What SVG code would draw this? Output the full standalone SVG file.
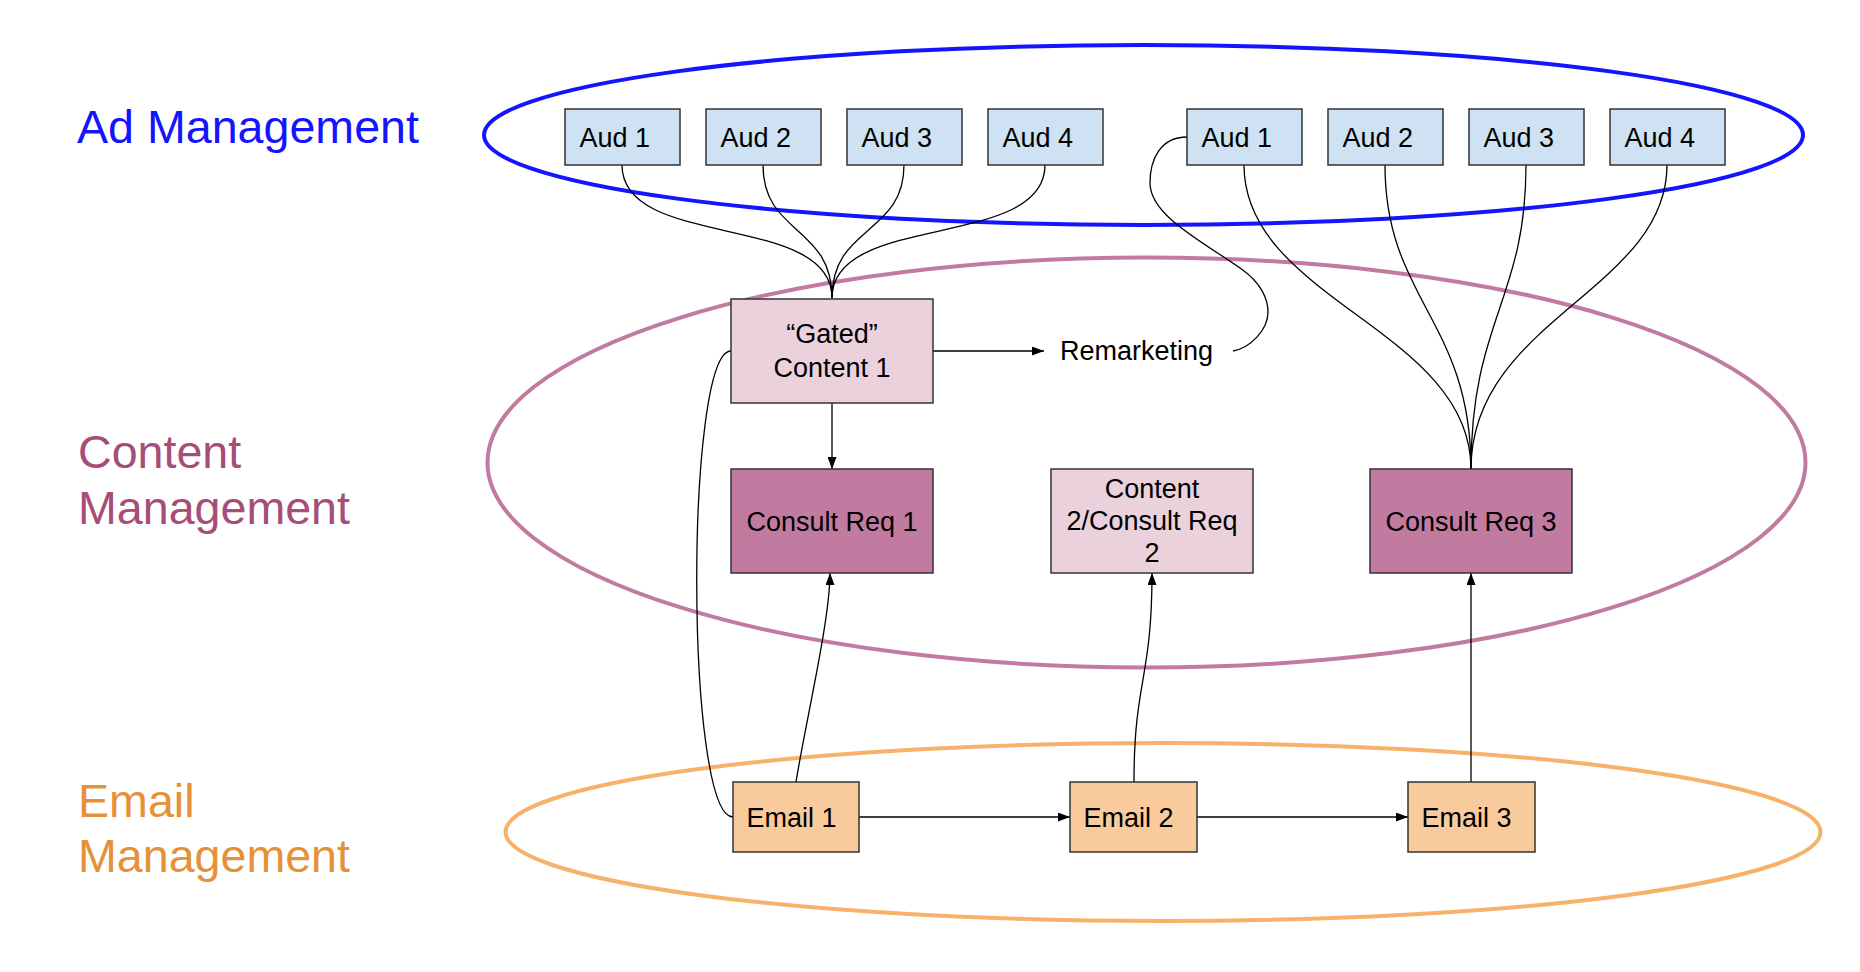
<svg xmlns="http://www.w3.org/2000/svg" width="1860" height="972" viewBox="0 0 1860 972">
<style>
text{font-family:"Liberation Sans",Arial,sans-serif;}
.lbl{font-size:46.6px;}
.t{font-size:27px;fill:#000;}
.c{text-anchor:middle;}
.box{stroke:#333;stroke-width:1.5;}
.aud{fill:#cfe2f3;}
.lc{fill:#ead1dc;}
.dc{fill:#c27ba0;}
.em{fill:#f9cb9c;}
.ln{fill:none;stroke:#000;stroke-width:1.3;}
.ar{marker-end:url(#arr);}
.grp{fill:none;stroke-width:4;}
</style>
<defs>
<marker id="arr" viewBox="0 0 12 9" refX="12" refY="4.5" markerWidth="12" markerHeight="9" markerUnits="userSpaceOnUse" orient="auto">
<path d="M0,0 L12,4.5 L0,9 Z" fill="#000"/>
</marker>
</defs>
<rect width="1860" height="972" fill="#fff"/>

<g id="groups">
<ellipse cx="1143.5" cy="135" rx="659.5" ry="90" class="grp" stroke="#1414ff" stroke-width="4.5"/>
<ellipse cx="1146.5" cy="462.5" rx="659" ry="205" class="grp" stroke="#c27ba0"/>
<ellipse cx="1163" cy="832" rx="657.5" ry="89" class="grp" stroke="#f6b26b"/>
<text class="lbl" x="77" y="143" fill="#1414ff">Ad Management</text>
<text class="lbl" x="78" y="468" fill="#a64d79">Content</text>
<text class="lbl" x="78" y="524" fill="#a64d79">Management</text>
<text class="lbl" x="78" y="817" fill="#e69138">Email</text>
<text class="lbl" x="78" y="872" fill="#e69138">Management</text>
</g>

<g id="connectors">
<path class="ln" d="M622,165 C622,250 832,212 832,298"/>
<path class="ln" d="M763,165 C763,235 832,225 832,298"/>
<path class="ln" d="M904,165 C904,235 832,225 832,298"/>
<path class="ln" d="M1045,165 C1045,250 832,212 832,298"/>
<path class="ln" d="M1244,165 C1244,300 1471,330 1471,469"/>
<path class="ln" d="M1385,165 C1385,300 1471,320 1471,469"/>
<path class="ln" d="M1526,165 C1526,300 1471,320 1471,469"/>
<path class="ln" d="M1667,165 C1667,290 1471,320 1471,469"/>
<path class="ln ar" d="M933,351 L1044,351"/>
<path class="ln ar" d="M832,403 L832,469"/>
<path class="ln" d="M1187,137 C1160,137 1150,160 1150,183 C1150,215 1200,240 1240,268 C1262,283 1268,300 1268,312 C1268,330 1250,348 1233,351"/>
<path class="ln" d="M731,351 C685,351 685,817 733,817"/>
<path class="ln ar" d="M796,782 C806,720 830,620 830,573"/>
<path class="ln ar" d="M1134,782 C1134,680 1152,680 1152,573"/>
<path class="ln ar" d="M1471,782 L1471,573"/>
<path class="ln ar" d="M859,817 L1070,817"/>
<path class="ln ar" d="M1197,817 L1408,817"/>
</g>

<g id="aud1a"><rect class="box aud" x="565" y="109" width="115" height="56"/><text class="t" x="579.5" y="146.5">Aud 1</text></g>
<g id="aud2a"><rect class="box aud" x="706" y="109" width="115" height="56"/><text class="t" x="720.5" y="146.5">Aud 2</text></g>
<g id="aud3a"><rect class="box aud" x="847" y="109" width="115" height="56"/><text class="t" x="861.5" y="146.5">Aud 3</text></g>
<g id="aud4a"><rect class="box aud" x="988" y="109" width="115" height="56"/><text class="t" x="1002.5" y="146.5">Aud 4</text></g>
<g id="aud1b"><rect class="box aud" x="1187" y="109" width="115" height="56"/><text class="t" x="1201.5" y="146.5">Aud 1</text></g>
<g id="aud2b"><rect class="box aud" x="1328" y="109" width="115" height="56"/><text class="t" x="1342.5" y="146.5">Aud 2</text></g>
<g id="aud3b"><rect class="box aud" x="1469" y="109" width="115" height="56"/><text class="t" x="1483.5" y="146.5">Aud 3</text></g>
<g id="aud4b"><rect class="box aud" x="1610" y="109" width="115" height="56"/><text class="t" x="1624.5" y="146.5">Aud 4</text></g>

<g id="gated"><rect class="box lc" x="731" y="299" width="202" height="104"/><text class="t c" x="832" y="343">“Gated”</text><text class="t c" x="832" y="377">Content 1</text></g>
<g id="remarketing"><text class="t" x="1060" y="360">Remarketing</text></g>
<g id="consult1"><rect class="box dc" x="731" y="469" width="202" height="104"/><text class="t c" x="832" y="530.5">Consult Req 1</text></g>
<g id="content2"><rect class="box lc" x="1051" y="469" width="202" height="104"/><text class="t c" x="1152" y="498">Content</text><text class="t c" x="1152" y="530">2/Consult Req</text><text class="t c" x="1152" y="562">2</text></g>
<g id="consult3"><rect class="box dc" x="1370" y="469" width="202" height="104"/><text class="t c" x="1471" y="530.5">Consult Req 3</text></g>

<g id="email1"><rect class="box em" x="733" y="782" width="126" height="70"/><text class="t" x="746.5" y="826.5">Email 1</text></g>
<g id="email2"><rect class="box em" x="1070" y="782" width="127" height="70"/><text class="t" x="1083.5" y="826.5">Email 2</text></g>
<g id="email3"><rect class="box em" x="1408" y="782" width="127" height="70"/><text class="t" x="1421.5" y="826.5">Email 3</text></g>
</svg>
